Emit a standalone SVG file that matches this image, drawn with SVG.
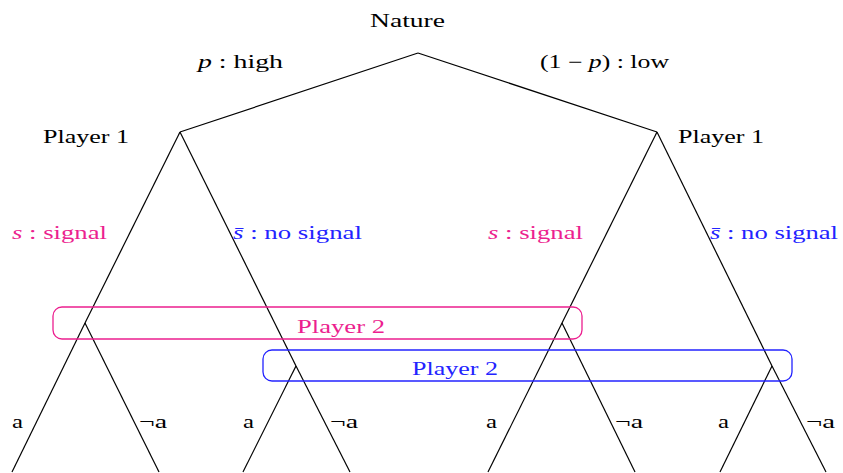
<svg xmlns="http://www.w3.org/2000/svg" width="843" height="473" viewBox="0 0 843 473">
<style>
text{font-family:"Liberation Serif","DejaVu Serif",serif;font-size:18px;fill:#000}
.pk{fill:#ec1f8f}
.bl{fill:#2323ff}
.edge{stroke:#000;stroke-width:1.2;fill:none}
.set{fill:none;stroke-width:1.3}
</style>
<rect width="843" height="473" fill="#fff"/>
<g id="connectors">
<line class="edge" x1="418" y1="53" x2="180" y2="132"/>
<line class="edge" x1="418" y1="53" x2="657" y2="132"/>
<line class="edge" x1="180" y1="132" x2="85" y2="323"/>
<line class="edge" x1="180" y1="132" x2="296" y2="366"/>
<line class="edge" x1="657" y1="132" x2="562" y2="323"/>
<line class="edge" x1="657" y1="132" x2="772" y2="366"/>
<line class="edge" x1="85" y1="323" x2="12" y2="472"/>
<line class="edge" x1="85" y1="323" x2="159" y2="472"/>
<line class="edge" x1="296" y1="366" x2="243" y2="472"/>
<line class="edge" x1="296" y1="366" x2="350" y2="472"/>
<line class="edge" x1="562" y1="323" x2="488" y2="472"/>
<line class="edge" x1="562" y1="323" x2="635" y2="472"/>
<line class="edge" x1="772" y1="366" x2="720" y2="472"/>
<line class="edge" x1="772" y1="366" x2="826" y2="472"/>
</g>
<g id="nature">
<text x="370" y="27" textLength="75" lengthAdjust="spacingAndGlyphs">Nature</text>
</g>
<g id="edge-labels-top">
<text x="198" y="68" textLength="85" lengthAdjust="spacingAndGlyphs"><tspan font-style="italic">p</tspan> : high</text>
<text x="540" y="68" textLength="129" lengthAdjust="spacingAndGlyphs">(1 − <tspan font-style="italic">p</tspan>) : low</text>
</g>
<g id="player1-left">
<text x="43" y="143" textLength="86" lengthAdjust="spacingAndGlyphs">Player 1</text>
</g>
<g id="player1-right">
<text x="678" y="143" textLength="86" lengthAdjust="spacingAndGlyphs">Player 1</text>
</g>
<g id="signal-labels">
<text class="pk" x="12" y="239" textLength="95" lengthAdjust="spacingAndGlyphs"><tspan font-style="italic">s</tspan> : signal</text>
<text class="bl" x="233" y="239" textLength="129" lengthAdjust="spacingAndGlyphs"><tspan font-style="italic">s̄</tspan> : no signal</text>
<text class="pk" x="488" y="239" textLength="95" lengthAdjust="spacingAndGlyphs"><tspan font-style="italic">s</tspan> : signal</text>
<text class="bl" x="710" y="239" textLength="128" lengthAdjust="spacingAndGlyphs"><tspan font-style="italic">s̄</tspan> : no signal</text>
</g>
<g id="player2-signal">
<rect class="set" x="53" y="307" width="529" height="32" rx="9" stroke="#ec1f8f"/>
<text class="pk" x="297" y="333" textLength="88" lengthAdjust="spacingAndGlyphs">Player 2</text>
</g>
<g id="player2-nosignal">
<rect class="set" x="263" y="350" width="529" height="31" rx="9" stroke="#2323ff"/>
<text class="bl" x="412" y="375" textLength="86" lengthAdjust="spacingAndGlyphs">Player 2</text>
</g>
<g id="action-labels">
<text x="12" y="428" textLength="11" lengthAdjust="spacingAndGlyphs">a</text>
<text x="139" y="428" textLength="28" lengthAdjust="spacingAndGlyphs">¬a</text>
<text x="243" y="428" textLength="11" lengthAdjust="spacingAndGlyphs">a</text>
<text x="330" y="428" textLength="28" lengthAdjust="spacingAndGlyphs">¬a</text>
<text x="486" y="428" textLength="11" lengthAdjust="spacingAndGlyphs">a</text>
<text x="615" y="428" textLength="28" lengthAdjust="spacingAndGlyphs">¬a</text>
<text x="718" y="428" textLength="11" lengthAdjust="spacingAndGlyphs">a</text>
<text x="806" y="428" textLength="29" lengthAdjust="spacingAndGlyphs">¬a</text>
</g>
</svg>
